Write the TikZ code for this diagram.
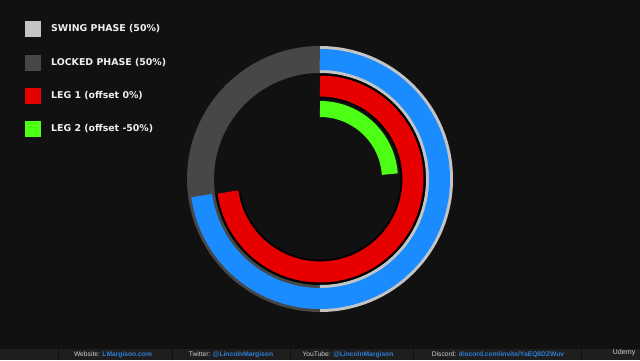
\documentclass[tikz,border=0pt]{standalone}
\usepackage{fontspec}
\setmainfont{DejaVu Sans}
\newfontfamily\barfont{Liberation Sans}
\definecolor{bgc}{HTML}{111111}
\definecolor{barc}{HTML}{1E1E1E}
\definecolor{sepc}{HTML}{0E0E0E}
\definecolor{swingc}{HTML}{C4C4C4}
\definecolor{lockc}{HTML}{474747}
\definecolor{bluec}{HTML}{1A8CFF}
\definecolor{redc}{HTML}{E60000}
\definecolor{greenc}{HTML}{4CFF14}
\definecolor{linkc}{HTML}{2F7FD6}
\definecolor{bartext}{HTML}{CFCFCF}
\tikzset{
  legbox/.style={minimum size=16pt, inner sep=0pt, draw=none},
  legtext/.style={anchor=west, inner sep=0pt, text=white!94!black, font=\bfseries\fontsize{9.4}{11}\selectfont},
  bartxt/.style={inner sep=0pt, text=bartext, font=\barfont\fontsize{6.7}{7}\selectfont},
  sepline/.style={draw=sepc, line width=1pt}
}
\begin{document}
\begin{tikzpicture}[x=1pt,y=1pt]
\useasboundingbox (0,0) rectangle (640,360);
\fill[bgc] (0,0) rectangle (640,360);
% bottom bar
\fill[barc] (0,0) rectangle (640,11);
\foreach \sx in {58,172,290,413,581} {
  \draw[sepline] (\sx,0) -- (\sx,11);
}
\node[bartxt] (web) at (113,5.5) {Website: \textcolor{linkc}{\bfseries LMargison.com}};
\node[bartxt] (tw) at (231,5.5) {Twitter: \textcolor{linkc}{\bfseries @LincolnMargison}};
\node[bartxt] (yt) at (348,5.5) {YouTube: \textcolor{linkc}{\bfseries @LincolnMargison}};
\node[bartxt] (dc) at (498,5.5) {Discord: \textcolor{linkc}{\bfseries discord.com/invite/YaEQ8DZWuv}};
\node[bartxt, font=\barfont\fontsize{7.2}{8}\selectfont] (ud) at (624,7.5) {Udemy};
% legend
\node[legbox, fill=swingc] (l1) at (33,331) {};
\node[legbox, fill=lockc] (l2) at (33,297.5) {};
\node[legbox, fill=redc] (l3) at (33,264.5) {};
\node[legbox, fill=greenc] (l4) at (33,231.5) {};
\node[legtext] (t1) at (51,331) {SWING PHASE (50\%)};
\node[legtext] (t2) at (51,297.5) {LOCKED PHASE (50\%)};
\node[legtext] (t3) at (51,264.5) {LEG 1 (offset 0\%)};
\node[legtext] (t4) at (51,231.5) {LEG 2 (offset -50\%)};
% rings
\coordinate (c) at (320,181);
\draw[lockc, line width=27pt] (c) ++(90:119.5pt) arc[start angle=90, end angle=270, radius=119.5pt];
\draw[swingc, line width=27pt] (c) ++(-90:119.5pt) arc[start angle=-90, end angle=90, radius=119.5pt];
\draw[bluec, line width=21pt] (c) ++(90:119.5pt) arc[start angle=90, end angle=-172, radius=119.5pt];
\draw[black, line width=25pt] (c) ++(90:93pt) arc[start angle=90, end angle=-172, radius=93pt];
\draw[redc, line width=21pt] (c) ++(90:93pt) arc[start angle=90, end angle=-172, radius=93pt];
\draw[greenc, line width=16pt] (c) ++(90:70pt) arc[start angle=90, end angle=4, radius=70pt];
\end{tikzpicture}
\end{document}
